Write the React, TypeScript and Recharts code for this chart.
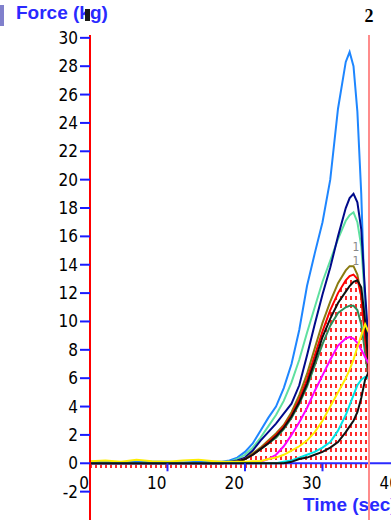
import React from 'react';
import { ComposedChart, Line, Area, XAxis, YAxis, ReferenceLine, ReferenceDot, Scatter } from 'recharts';

// Sample times (seconds)
const times = [0, 2, 4, 6, 8, 10, 12, 14, 16, 17, 18, 19, 20, 21, 22, 23, 24, 25, 26, 27, 28, 29, 30, 31, 32, 33, 33.5, 34, 34.5, 35, 35.5, 36];

// Force traces (kg), one value per sample time
const traceBlue = [0.1, 0.1, 0.05, 0.1, 0.1, 0.1, 0.05, 0.1, 0.1, 0.1, 0.2, 0.4, 0.8, 1.4, 2.3, 3.2, 4.0, 5.3, 7.0, 9.4, 12.5, 14.8, 17.0, 20.0, 25.0, 28.3, 29.0, 28.0, 24.8, 19.0, 10.5, 6.2];
const traceNavy = [0, 0, 0, 0, 0, 0, 0, 0, 0, 0.05, 0.1, 0.2, 0.4, 0.9, 1.6, 2.2, 2.8, 3.5, 4.2, 5.5, 7.6, 9.8, 11.9, 13.8, 16.0, 18.0, 18.7, 19.0, 18.4, 16.5, 12.0, 8.0];
const traceMint = [0, 0, 0, 0, 0, 0, 0, 0, 0, 0, 0.1, 0.3, 0.6, 1.1, 1.8, 2.6, 3.4, 4.4, 5.7, 7.3, 9.2, 11.0, 12.8, 14.3, 15.8, 17.1, 17.5, 17.7, 17.0, 15.3, 11.5, 7.5];
const traceOlive = [0, 0, 0, 0, 0, 0, 0, 0, 0, 0, 0.05, 0.1, 0.3, 0.7, 1.1, 1.6, 2.1, 2.7, 3.6, 4.8, 6.3, 8.1, 9.9, 11.4, 12.7, 13.6, 13.9, 13.9, 13.3, 11.8, 8.8, 6.3];
const traceRed = [0, 0, 0, 0, 0, 0, 0, 0, 0, 0, 0.05, 0.1, 0.3, 0.6, 1.0, 1.5, 2.0, 2.6, 3.4, 4.5, 5.9, 7.6, 9.3, 10.8, 12.0, 12.9, 13.2, 13.3, 13.0, 11.8, 8.8, 6.2];
const traceBlack = [0, 0, 0, 0, 0, 0, 0, 0, 0, 0, 0.05, 0.1, 0.3, 0.6, 1.0, 1.4, 1.9, 2.5, 3.3, 4.3, 5.6, 7.2, 8.9, 10.2, 11.3, 12.1, 12.5, 12.8, 12.9, 12.4, 10.0, 6.5];
const traceSea = [0, 0, 0, 0, 0, 0, 0, 0, 0, 0, 0.05, 0.1, 0.3, 0.6, 1.0, 1.4, 1.8, 2.4, 3.2, 4.2, 5.4, 6.9, 8.4, 9.7, 10.6, 11.0, 11.1, 11.1, 10.8, 9.8, 7.8, 5.8];
const traceMagenta = [0, 0, 0, 0, 0, 0, 0, 0, 0, 0, 0, 0, 0, 0, 0.1, 0.3, 0.6, 1.2, 2.0, 2.9, 3.9, 5.1, 6.2, 7.3, 8.3, 8.8, 8.9, 8.8, 8.5, 8.0, 7.5, 7.0];
const traceYellow = [0.15, 0.2, 0.1, 0.25, 0.15, 0.1, 0.2, 0.25, 0.15, 0.1, 0.1, 0.1, 0.1, 0.15, 0.15, 0.3, 0.4, 0.6, 0.9, 1.2, 1.6, 2.2, 3.0, 4.0, 5.0, 6.0, 6.6, 7.3, 8.2, 9.0, 9.8, 9.2];
const traceCyan = [0, 0, 0, 0, 0, 0, 0, 0, 0, 0, 0, 0, 0, 0, 0, 0, 0, 0.1, 0.2, 0.4, 0.6, 0.8, 1.1, 1.5, 2.3, 3.4, 4.1, 4.8, 5.5, 5.9, 6.1, 6.0];
const traceLate = [0, 0, 0, 0, 0, 0, 0, 0, 0, 0, 0, 0, 0, 0, 0, 0, 0, 0, 0.1, 0.3, 0.4, 0.6, 0.8, 1.1, 1.5, 2.2, 2.6, 3.0, 3.6, 4.6, 5.9, 6.5];

// Axis ticks
const yTicks = [-2, 0, 2, 4, 6, 8, 10, 12, 14, 16, 18, 20, 22, 24, 26, 28, 30];
const xTicks = [0, 10, 20, 30, 40];

// Small trace-number tags near the peaks: [time, force, text]
const traceTags: [number, number, string][] = [
  [34.3, 15.3, '1'],
  [34.3, 14.3, '1'],
];

const rows: any[] = times.map((t, i) => ({
  t,
  axis: 0,
  blue: traceBlue[i],
  navy: traceNavy[i],
  mint: traceMint[i],
  olive: traceOlive[i],
  red: traceRed[i],
  black: traceBlack[i],
  sea: traceSea[i],
  magenta: traceMagenta[i],
  yellow: traceYellow[i],
  cyan: traceCyan[i],
  late: traceLate[i],
}));
rows.push({ t: 40, axis: 0 });

const xTickRows = xTicks.map((t) => ({ t, f: 0 }));

const narrowFont = '"Liberation Sans Narrow", "DejaVu Sans Condensed", "Liberation Sans", sans-serif';

// Tick mark + label for the time axis, which sits on the zero line
const TimeTick = (props: any) => {
  const { cx, cy, payload } = props;
  return (
    <g>
      {payload.t !== 0 && (
        <line x1={cx} y1={cy} x2={cx} y2={cy + 8} stroke="#2a2aff" strokeWidth={2} />
      )}
      <text x={cx - 1} y={cy + 26} textAnchor="end" fill="#000" fontSize={17} fontFamily={narrowFont}>
        {payload.t}
      </text>
    </g>
  );
};

const traces: [string, string, number][] = [
  ['blue', '#1e86ff', 2],
  ['mint', '#5fe0a0', 2],
  ['navy', '#000a8a', 2],
  ['olive', '#8a7a10', 2],
  ['sea', '#2e8b57', 2],
  ['red', '#ff0000', 2],
  ['black', '#111111', 2],
  ['magenta', '#ff00ff', 2],
  ['yellow', '#ffee00', 2],
  ['cyan', '#00e5e5', 2],
  ['late', '#111111', 2],
];

export default function App() {
  return (
    <div
      style={{
        position: 'fixed',
        left: 0,
        top: 0,
        width: 391,
        height: 520,
        overflow: 'hidden',
        background: '#fff',
      }}
    >
      <div style={{ position: 'absolute', left: 0, top: 5, width: 4, height: 21, background: '#8080cc' }} />
      <div
        style={{
          position: 'absolute',
          left: 16,
          top: 2,
          fontFamily: '"Liberation Sans", Arial, sans-serif',
          fontWeight: 'bold',
          fontSize: 19,
          color: '#2a2aff',
          whiteSpace: 'nowrap',
        }}
      >
        Force (kg)
      </div>
      <div style={{ position: 'absolute', left: 85, top: 9, width: 5, height: 12, background: '#1a1a1a' }} />
      <div
        style={{
          position: 'absolute',
          left: 303,
          top: 495,
          lineHeight: '19px',
          fontFamily: '"Liberation Sans", Arial, sans-serif',
          fontWeight: 'bold',
          fontSize: 19,
          color: '#2a2aff',
          whiteSpace: 'nowrap',
        }}
      >
        Time (sec)
      </div>
      <ComposedChart
        width={410}
        height={520}
        data={rows}
        margin={{ top: 35, right: 10, bottom: 0, left: 0 }}
        style={{ position: 'absolute', left: 0, top: 0 }}
      >
        <defs>
          <pattern id="dropHatch" width="5" height="8" patternUnits="userSpaceOnUse">
            <rect x="0" y="0" width="2" height="4" fill="#ff2a2a" />
          </pattern>
        </defs>
        <XAxis type="number" dataKey="t" domain={[0, 40]} hide />
        <YAxis
          type="number"
          domain={[-4, 30.2]}
          ticks={yTicks}
          interval={0}
          width={90}
          axisLine={{ stroke: '#ff0000', strokeWidth: 2 }}
          tickLine={{ stroke: '#1a1aff', strokeWidth: 2 }}
          tickSize={10}
          tick={{ fill: '#000', fontSize: 17, fontFamily: narrowFont }}
        />
        <Line dataKey="axis" stroke="#2a2aff" strokeWidth={2} dot={false} isAnimationActive={false} />
        <Area
          dataKey="red"
          type="linear"
          baseValue={-0.35}
          stroke="none"
          fill="url(#dropHatch)"
          fillOpacity={1}
          isAnimationActive={false}
        />
        {traces.map(([key, color, w]) => (
          <Line
            key={key}
            dataKey={key}
            type="linear"
            stroke={color}
            strokeWidth={w}
            dot={false}
            isAnimationActive={false}
          />
        ))}
        {traceTags.map(([t, f, txt], i) => (
          <ReferenceDot
            key={i}
            x={t}
            y={f}
            r={1}
            fill="none"
            stroke="none"
            label={{ value: txt, position: 'center', fill: '#888', fontSize: 12, fontFamily: narrowFont }}
          />
        ))}
        <ReferenceLine
          x={36}
          stroke="#ff8c8c"
          strokeWidth={2}
          label={{ value: '2', position: 'top', fill: '#000', fontSize: 18, fontWeight: 'bold', offset: 13 }}
        />
        <Scatter data={xTickRows} dataKey="f" shape={TimeTick} isAnimationActive={false} />
      </ComposedChart>
    </div>
  );
}
